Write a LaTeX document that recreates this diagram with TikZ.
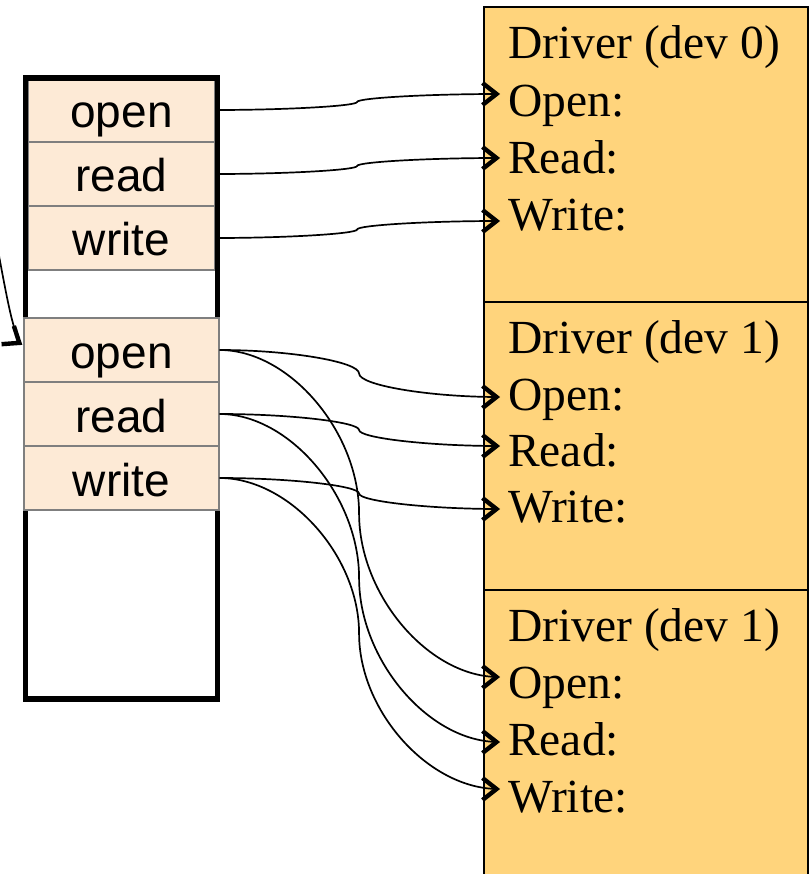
\documentclass[tikz,border=0pt]{standalone}
\usepackage{fontspec}
\setmainfont{Liberation Serif}
\newfontfamily\arialf{Liberation Sans}
\usetikzlibrary{calc}
\definecolor{cellfill}{HTML}{FDEAD6}
\definecolor{drvfill}{HTML}{FFD47C}
\definecolor{cellline}{HTML}{7F7F7F}
\tikzset{
  chevpic/.pic={\fill[black, line join=round] (1.56,0) -- (-14.64,-12.73) -- (-17.36,-9.27)
     -- (-5.56,0) -- (-17.36,9.27) -- (-14.64,12.73) -- cycle;}
}
\newcommand\drvconn[2]{%
  \draw[conn] let \p1=(#1), \p2=(#2), \p3=($(\p1)!0.5!(\p2)$) in
    (\p1) .. controls ({(\x1+\x3)/2},\y1) and (\x3,{(\y1+\y3)/2}) .. (\p3)
          .. controls (\x3,{(\y3+\y2)/2}) and ({(\x3+\x2)/2},\y2) .. (\p2);
  \pic at (#2) {chevpic};}
\begin{document}
\begin{tikzpicture}[x=1pt,y=-1pt,
  cellA/.style={draw=cellline, line width=1.3pt, fill=cellfill, minimum width=187pt,
    minimum height=64pt, inner sep=0pt, text height=36pt, text depth=0pt,
    font=\arialf\fontsize{46}{50}\selectfont},
  cellB/.style={cellA, minimum width=195pt},
  frame/.style={draw, line width=5.5pt, minimum width=192pt, minimum height=621pt, inner sep=0pt},
  drvbox/.style={draw, line width=2.2pt, fill=drvfill, minimum width=324pt, inner sep=0pt},
  drvtext/.style={anchor=base west, inner sep=0pt, font=\fontsize{47.5}{50}\selectfont},
  conn/.style={line width=1.7pt}]
\useasboundingbox (0,0) rectangle (810,874);

% driver boxes
\node[drvbox, minimum height=290pt] (drv2) at (646,735) {};
\node[drvbox, minimum height=288pt] (drv1) at (646,446) {};
\node[drvbox, minimum height=295pt] (drv0) at (646,154.5) {};

\node[drvtext] (d0h) at (508,59) {Driver (dev 0)};
\node[drvtext] (d0o) at (508,117) {Open:};
\node[drvtext] (d0r) at (508,174) {Read:};
\node[drvtext] (d0w) at (508,231) {Write:};

\node[drvtext] (d1h) at (508,353) {Driver (dev 1)};
\node[drvtext] (d1o) at (508,410) {Open:};
\node[drvtext] (d1r) at (508,466) {Read:};
\node[drvtext] (d1w) at (508,522) {Write:};

\node[drvtext] (d2h) at (508,641) {Driver (dev 1)};
\node[drvtext] (d2o) at (508,698) {Open:};
\node[drvtext] (d2r) at (508,755) {Read:};
\node[drvtext] (d2w) at (508,812) {Write:};

% left table
\node[cellA] (o1) at (121.5,110) {open};
\node[cellA] (r1) at (121.5,174) {read};
\node[cellA] (w1) at (121.5,238) {write};
\node[frame] (tbl) at (121.5,388.5) {};
\node[cellB] (o2) at (121.5,350) {open};
\node[cellB] (r2) at (121.5,414) {read};
\node[cellB] (w2) at (121.5,478) {write};

% arrow targets
\coordinate (t0o) at (498.5,94);
\coordinate (t0r) at (498.5,158);
\coordinate (t0w) at (498.5,221);
\coordinate (t1o) at (498.5,397);
\coordinate (t1r) at (498.5,446);
\coordinate (t1w) at (498.5,509);
\coordinate (t2o) at (498.5,677);
\coordinate (t2r) at (498.5,742);
\coordinate (t2w) at (498.5,789);

\drvconn{o1.east}{t0o}
\drvconn{r1.east}{t0r}
\drvconn{w1.east}{t0w}
\drvconn{o2.east}{t1o}
\drvconn{r2.east}{t1r}
\drvconn{w2.east}{t1w}
\drvconn{o2.east}{t2o}
\drvconn{r2.east}{t2r}
\drvconn{w2.east}{t2w}

% incoming pointer
\coordinate (inS) at (-4,240);
\coordinate (inE) at (21,344);
\draw[conn] (inS) .. controls (6,292) and (12,330) .. (inE);
\pic[rotate=-34] at (inE) {chevpic};
\end{tikzpicture}
\end{document}
